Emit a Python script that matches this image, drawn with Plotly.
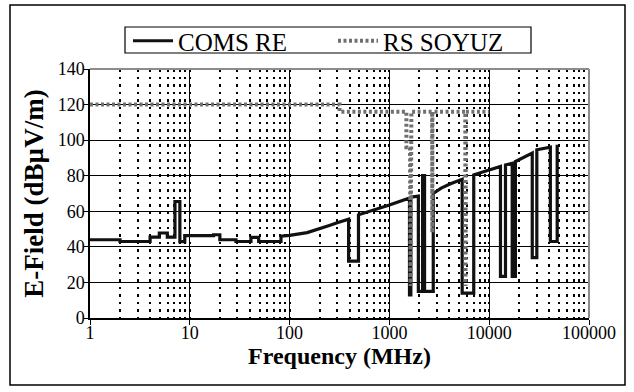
import plotly.graph_objects as go

# COMS RE (black) – frequency in MHz, level in dBuV/m
coms_freq = [1, 2, 2, 4, 4, 4.95, 4.95, 5.95, 5.95, 7.1, 7.1, 7.95, 7.95, 8.9, 8.9, 17.3, 17.3, 20, 20, 29, 29, 41, 41, 49,
             49, 82, 82, 100, 150, 200, 250, 300, 390, 390, 490, 490, 650, 1000, 1590, 1590, 1640, 1640, 1950, 1950,
             2150, 2150, 2250, 2250, 2750, 2750, 3300, 4100, 5360, 5360, 7000, 7000, 12970, 12970, 14560, 14560,
             17000, 17000, 18300, 18300, 27000, 27000, 30000, 30000, 41000, 41000, 48000, 48000]
coms_level = [44, 44, 43, 43, 45.5, 45.5, 47.8, 47.8, 45.5, 45.5, 65.5, 65.5, 42.9, 42.9, 46.3, 46.3, 46.8, 46.8, 44, 44, 43, 43, 45.3, 45.3,
              43, 43, 46, 46.5, 48, 50, 52, 53.5, 55.5, 32, 32, 58, 60, 63.5, 67.5, 13, 13, 68, 68.5, 15,
              15, 80, 80, 15, 15, 70, 73, 75.5, 78, 14, 14, 80.5, 85.2, 23.4, 23.4, 86,
              87, 23.4, 23.4, 88, 92.7, 34, 34, 94.6, 96, 43, 43, 97.4]

# RS SOYUZ (grey dotted)
soyuz_freq = [1, 316, 316, 1480, 1480, 1610, 1630, 1660, 2680, 2690, 2700, 5760, 5790, 5820, 10000]
soyuz_level = [120, 120, 116, 116, 96, 96, 18, 116, 116, 48, 116, 116, 18, 116, 116]

x_ticks = [1, 10, 100, 1000, 10000, 100000]
x_tick_text = ["1", "10", "100", "1000", "10000", "100000"]
y_ticks = [0, 20, 40, 60, 80, 100, 120, 140]

FONT = "Liberation Serif"

fig = go.Figure()
fig.add_trace(go.Scatter(x=coms_freq, y=coms_level, mode="lines", name="COMS RE",
                         line=dict(color="#111111", width=3.2)))
fig.add_trace(go.Scatter(x=soyuz_freq, y=soyuz_level, mode="lines", name="RS SOYUZ",
                         line=dict(color="#707070", width=4, dash="3px,2.5px")))


def px(x):
    return (x - 90) / 499.0


def py(y):
    return (318 - y) / 249.0


fig.update_layout(
    width=634, height=392,
    margin=dict(l=90, r=45, t=69, b=74),
    paper_bgcolor="white", plot_bgcolor="white",
    font=dict(family=FONT, size=18, color="black"),
    showlegend=True,
    legend=dict(orientation="h", x=px(128), xanchor="left", y=py(18), yanchor="top",
                borderwidth=0, bgcolor="rgba(0,0,0,0)",
                font=dict(size=25, family=FONT), entrywidth=150, itemwidth=40,
                tracegroupgap=0),
    xaxis=dict(type="log", range=[0, 5], tickvals=x_ticks, ticktext=x_tick_text,
               showline=True, linecolor="black", linewidth=1.5,
               ticks="outside", ticklen=5, tickcolor="black", ticklabelstandoff=-7,
               showgrid=True, gridcolor="black", gridwidth=1,
               minor=dict(dtick="D1", showgrid=True, gridcolor="black", griddash="2.5px,5px", gridwidth=2, ticks=""),
               title=dict(text="<b>Frequency (MHz)</b>", font=dict(size=24, family=FONT), standoff=1),
               zeroline=False),
    yaxis=dict(range=[0, 140], tickvals=y_ticks,
               showline=True, linecolor="black", linewidth=1.5,
               ticks="outside", ticklen=4, tickcolor="black", ticklabelstandoff=-4,
               showgrid=True, gridcolor="black", gridwidth=1,
               title=dict(text="<b>E-Field (dBµV/m)</b>", font=dict(size=27, family=FONT), standoff=6),
               zeroline=False),
    shapes=[
        dict(type="line", xref="paper", yref="paper", x0=0, x1=1, y0=1, y1=1,
             line=dict(color="#8c8c8c", width=2), layer="above"),
        dict(type="line", xref="paper", yref="paper", x0=1, x1=1, y0=0, y1=1,
             line=dict(color="#8c8c8c", width=2), layer="above"),
        dict(type="rect", xref="paper", yref="paper", x0=px(10), x1=px(625), y0=py(385), y1=py(5),
             line=dict(color="black", width=1.5), fillcolor="rgba(0,0,0,0)", layer="below"),
        dict(type="rect", xref="paper", yref="paper", x0=px(125), x1=px(531), y0=py(53), y1=py(27),
             line=dict(color="black", width=1.2), fillcolor="rgba(0,0,0,0)", layer="above"),
    ],
)

fig.write_html("out.html", config={"displayModeBar": False},
               post_script="document.body.style.margin='0';")
